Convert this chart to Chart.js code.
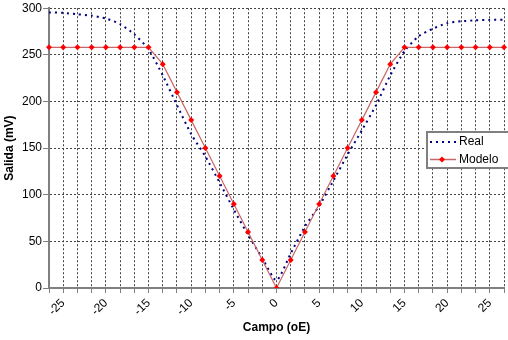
<!DOCTYPE html>
<html>
<head>
<meta charset="utf-8">
<script src="https://cdn.jsdelivr.net/npm/chart.js@4/dist/chart.umd.min.js"></script>
<style>
  body { margin: 0; background: #fff; }
  #wrap { width: 508px; height: 340px; }
</style>
</head>
<body>
<div id="wrap"><canvas id="chart" width="508" height="340"></canvas></div>
<script>
// campo (oE), one category every 5/3 oE
const campo = [-26.7, -25, -23.3, -21.7, -20, -18.3, -16.7, -15, -13.3, -11.7, -10, -8.3, -6.7, -5, -3.3, -1.7,
  0, 1.7, 3.3, 5, 6.7, 8.3, 10, 11.7, 13.3, 15, 16.7, 18.3, 20, 21.7, 23.3, 25, 26.7]

// salida (mV)
const real = [295.5, 295, 293.5, 292, 289, 283, 272, 256, 228, 196, 165, 141, 113, 84, 57, 32,
  8, 37, 66, 88, 115, 143, 169, 196, 228, 254, 270, 278, 284, 286, 287, 287.5, 287.5]
const modelo = [258, 258, 258, 258, 258, 258, 258, 258, 240, 210, 180, 150, 120, 90, 60, 30,
  0, 30, 60, 90, 120, 150, 180, 210, 240, 258, 258, 258, 258, 258, 258, 258, 258]

const yTicks = [0, 50, 100, 150, 200, 250, 300]

const font = 'Liberation Sans, Arial, sans-serif'

// legend box drawn inside the plot, like the excel one
const boxLegend = {
  id: 'boxLegend',
  afterDraw(chart) {
    const ctx = chart.ctx
    const x = 427, y = 132, w = 90, h = 36
    ctx.save()
    ctx.fillStyle = '#fff'
    ctx.fillRect(x, y, w, h)
    ctx.strokeStyle = '#808080'
    ctx.lineWidth = 2
    ctx.strokeRect(x, y, w, h)

    ctx.font = '12px ' + font
    ctx.fillStyle = '#000'
    ctx.textBaseline = 'middle'

    // Real
    ctx.strokeStyle = '#000080'
    ctx.setLineDash([2, 4])
    ctx.beginPath()
    ctx.moveTo(430, 142)
    ctx.lineTo(456, 142)
    ctx.stroke()
    ctx.setLineDash([])
    ctx.fillText('Real', 459, 142)

    // Modelo
    ctx.strokeStyle = '#cc6666'
    ctx.lineWidth = 1.5
    ctx.beginPath()
    ctx.moveTo(430, 159.5)
    ctx.lineTo(456, 159.5)
    ctx.stroke()
    ctx.fillStyle = '#ff0000'
    ctx.beginPath()
    ctx.moveTo(442, 156.5)
    ctx.lineTo(445, 159.5)
    ctx.lineTo(442, 162.5)
    ctx.lineTo(439, 159.5)
    ctx.closePath()
    ctx.fill()
    ctx.fillStyle = '#000'
    ctx.fillText('Modelo', 459, 159.5)
    ctx.restore()
  }
}

new Chart(document.getElementById('chart'), {
  type: 'line',
  data: {
    labels: campo,
    datasets: [
      {
        label: 'Real',
        data: real,
        borderColor: '#000080',
        borderWidth: 2,
        borderDash: [2, 4],
        pointRadius: 0,
        tension: 0.2,
        order: 1
      }, {
        label: 'Modelo',
        data: modelo,
        borderColor: '#cc6666',
        borderWidth: 1.2,
        pointStyle: 'rectRot',
        pointRadius: 3,
        pointBackgroundColor: '#ff0000',
        pointBorderColor: '#ff0000',
        pointBorderWidth: 0,
        tension: 0,
        order: 0
      }
    ]
  },
  options: {
    responsive: false,
    animation: false,
    layout: { padding: { top: 7, left: 0, right: 0, bottom: 0 } },
    plugins: {
      legend: { display: false },
      tooltip: { enabled: false }
    },
    scales: {
      x: {
        type: 'category',
        offset: false,
        afterFit: scale => {
          scale.height = 52
          scale.paddingLeft = 0
          scale.paddingRight = 0
        },
        grid: {
          color: '#444',
          lineWidth: 1,
          tickLength: 5,
          tickColor: '#808080',
          tickBorderDash: []
        },
        border: { color: '#808080', width: 2, dash: [2, 2] },
        ticks: {
          autoSkip: false,
          minRotation: 45,
          maxRotation: 45,
          padding: 3,
          color: '#000',
          font: { family: font, size: 12 },
          callback: function (val, i) {
            const v = campo[i]
            return Number.isInteger(v / 5) ? String(v) : ''
          }
        },
        title: {
          display: true,
          text: 'Campo (oE)',
          color: '#000',
          font: { family: font, size: 12, weight: 'bold' },
          padding: { top: 2, bottom: 5 }
        }
      },
      y: {
        min: 0,
        max: 300,
        afterFit: scale => { scale.width = 49 },
        afterBuildTicks: scale => { scale.ticks = yTicks.map(v => ({ value: v })) },
        grid: {
          color: '#444',
          lineWidth: 1,
          tickLength: 6,
          tickColor: '#808080',
          tickBorderDash: []
        },
        border: { color: '#808080', width: 2, dash: [2, 2] },
        ticks: {
          padding: 1,
          color: '#000',
          font: { family: font, size: 12 }
        },
        title: {
          display: true,
          text: 'Salida (mV)',
          color: '#000',
          font: { family: font, size: 12, weight: 'bold' },
          padding: { top: 2, bottom: 0 }
        }
      }
    }
  },
  plugins: [boxLegend]
})
</script>
</body>
</html>
